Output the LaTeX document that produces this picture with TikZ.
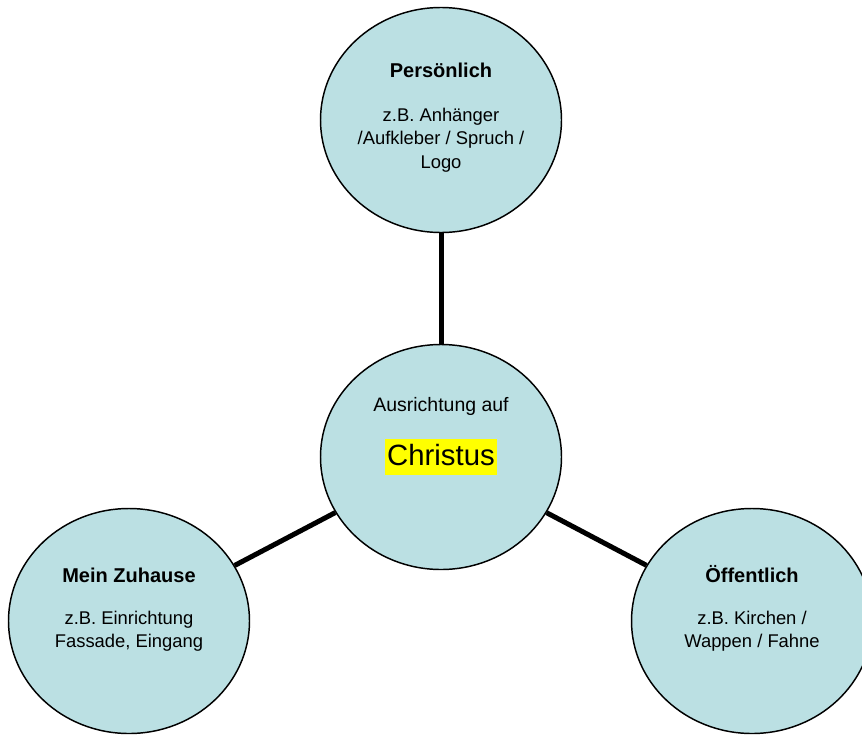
\documentclass[tikz,border=0pt]{standalone}
\usepackage{fontspec}
\setmainfont{Liberation Sans}
\usetikzlibrary{shapes.geometric, positioning, calc}
\definecolor{bubblefill}{RGB}{187, 224, 227}
\definecolor{marker}{RGB}{255, 255, 0}

\begin{document}
\begin{tikzpicture}[x=0.75pt, y=-0.75pt,
    bubble/.style={ellipse, draw=black, line width=1.1pt, fill=bubblefill,
                   minimum width=180.75pt, minimum height=168.75pt, inner sep=0pt},
    title/.style={font=\fontsize{15}{18}\selectfont\bfseries},
    body/.style={font=\fontsize{13.8}{17.5}\selectfont, align=center},
    spoke/.style={line width=3.75pt}]
    \useasboundingbox (0,0) rectangle (862,735);

    % Persoenlich
    \node[bubble] (PERS) at (441,120) {};
    \node[title] (PERST) at (441,70) {Persönlich};
    \node[body] (PERSB) at (441,140) {z.B. Anhänger\\/Aufkleber / Spruch /\\Logo};

    % Christus
    \node[bubble] (CHR) at (441,457) {};
    \node[body, font=\fontsize{14.6}{17.5}\selectfont] (CHRT) at (441,406) {Ausrichtung auf};
    \node[fill=marker, inner xsep=1.5pt, inner ysep=2pt, text height=17.5pt, text depth=5.5pt,
          font=\fontsize{22}{26}\selectfont] (CHRB) at (441,457) {Christus};

    % Mein Zuhause
    \node[bubble] (HOME) at (129,621) {};
    \node[title] (HOMET) at (129,575) {Mein Zuhause};
    \node[body] (HOMEB) at (129,631) {z.B. Einrichtung\\Fassade, Eingang};

    % Oeffentlich
    \node[bubble] (OEFF) at (752,621) {};
    \node[title] (OEFFT) at (752,574) {Öffentlich};
    \node[body] (OEFFB) at (752,631) {z.B. Kirchen /\\Wappen / Fahne};

    \draw[spoke] (CHR) -- (PERS);
    \draw[spoke] (CHR) -- (HOME);
    \draw[spoke] (CHR) -- (OEFF);
\end{tikzpicture}
\end{document}
